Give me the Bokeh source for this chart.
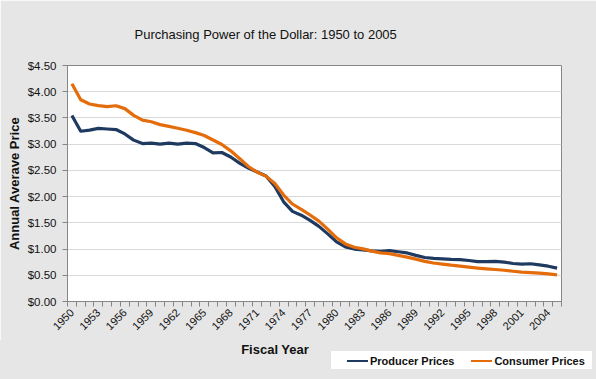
import math
from bokeh.plotting import figure
from bokeh.layouts import column
from bokeh.models import Range1d, FixedTicker, NumeralTickFormatter, Title, Div
from bokeh.embed import file_html
from bokeh.resources import INLINE

years = list(range(1950, 2006))
producer = [3.546, 3.247, 3.268, 3.300, 3.289, 3.279, 3.195, 3.077, 3.012, 3.021,
            3.000, 3.021, 3.000, 3.021, 3.012, 2.935, 2.833, 2.841, 2.755, 2.639,
            2.545, 2.469, 2.392, 2.193, 1.901, 1.718, 1.645, 1.546, 1.433, 1.289,
            1.136, 1.041, 1.000, 0.984, 0.964, 0.955, 0.969, 0.949, 0.926, 0.880,
            0.839, 0.822, 0.812, 0.802, 0.797, 0.782, 0.762, 0.759, 0.765, 0.752,
            0.725, 0.711, 0.720, 0.698, 0.673, 0.636]
consumer = [4.151, 3.846, 3.765, 3.735, 3.717, 3.732, 3.678, 3.549, 3.457, 3.427,
            3.373, 3.340, 3.304, 3.265, 3.220, 3.166, 3.080, 2.993, 2.873, 2.726,
            2.574, 2.466, 2.391, 2.251, 2.029, 1.859, 1.757, 1.649, 1.532, 1.380,
            1.215, 1.098, 1.035, 1.003, 0.961, 0.928, 0.913, 0.880, 0.846, 0.807,
            0.766, 0.734, 0.713, 0.692, 0.675, 0.656, 0.638, 0.623, 0.610, 0.596,
            0.577, 0.561, 0.552, 0.540, 0.526, 0.509]
y_ticks = [0.0, 0.5, 1.0, 1.5, 2.0, 2.5, 3.0, 3.5, 4.0, 4.5]
x_label_years = list(range(1950, 2005, 3))
series_names = ["Producer Prices", "Consumer Prices"]
series_colors = ["#1f3a60", "#e46c0a"]

title_text = "Purchasing Power of the Dollar: 1950 to 2005"
x_title = "Fiscal Year"
y_title = "Annual Averave Price"

BG = "#e6e6e6"
TXT = "#111111"
FONT = "Liberation Sans"

# ---- main chart ----
p = figure(width=596, height=340, output_backend="svg", toolbar_location=None,
           x_range=Range1d(years[0] - 0.5, years[-1] + 0.5), y_range=Range1d(0, 4.5),
           min_border_left=67, min_border_right=35, min_border_top=65, min_border_bottom=39)
p.background_fill_color = "white"
p.border_fill_color = BG
p.outline_line_color = "#868686"
p.xgrid.visible = False
p.ygrid.grid_line_color = "#d9d9d9"
p.ygrid.ticker = FixedTicker(ticks=y_ticks)

p.title = Title(text=title_text, align="left", offset=67, standoff=47,
                text_font=FONT, text_font_size="13px",
                text_font_style="normal", text_color=TXT)

xa = p.xaxis[0]
xa.ticker = FixedTicker(ticks=x_label_years,
                        minor_ticks=[y - 0.5 for y in range(years[0], years[-1] + 2)])
xa.major_tick_line_color = None
xa.major_tick_out = 0
xa.major_tick_in = 0
xa.minor_tick_out = 5
xa.minor_tick_in = 0
xa.minor_tick_line_color = "#868686"
xa.axis_line_color = "#868686"
xa.major_label_orientation = math.pi / 4
xa.major_label_text_font = FONT
xa.major_label_text_font_size = "11px"
xa.major_label_text_color = TXT
xa.major_label_standoff = 4

ya = p.yaxis[0]
ya.ticker = FixedTicker(ticks=y_ticks)
ya.formatter = NumeralTickFormatter(format="$0.00")
ya.major_tick_out = 5
ya.major_tick_in = 0
ya.major_tick_line_color = "#868686"
ya.minor_tick_line_color = None
ya.axis_line_color = "#868686"
ya.major_label_text_font = FONT
ya.major_label_text_font_size = "11.5px"
ya.major_label_text_color = TXT
ya.major_label_standoff = 6
ya.axis_label = y_title
ya.axis_label_text_font = FONT
ya.axis_label_text_font_size = "13px"
ya.axis_label_text_font_style = "bold"
ya.axis_label_text_color = TXT
ya.axis_label_standoff = 3

for vals, col in zip([producer, consumer], series_colors):
    p.line(years, vals, line_color=col, line_width=3.2, line_join="round")

# ---- bottom strip: x title and legend (HTML) ----
items_html = ""
for i, (name, col) in enumerate(zip(series_names, series_colors)):
    ml = 16 if i == 0 else 17
    items_html += (
        f'<span style="display:inline-block;margin-left:{ml}px;width:21px;height:0;'
        f'border-top:2px solid {col};vertical-align:middle;"></span>'
        f'<span style="display:inline-block;margin-left:2px;vertical-align:middle;">{name}</span>'
    )

strip_html = (
    f'<div style="position:relative;width:596px;height:39px;background:{BG};'
    f'font-family:\'{FONT}\';color:{TXT};overflow:hidden;">'
    f'<div style="position:absolute;left:225px;top:2px;width:100px;text-align:center;'
    f'font-size:13px;font-weight:bold;line-height:16px;">{x_title}</div>'
    f'<div style="position:absolute;left:331px;top:11px;width:261px;height:18px;'
    f'background:white;font-size:11px;font-weight:bold;line-height:18px;white-space:nowrap;">'
    f'{items_html}</div>'
    f'</div>'
)
strip = Div(text=strip_html, width=596, height=39, margin=0)

page = column(p, strip, spacing=0)
open("out.html", "w").write(file_html(page, INLINE))
